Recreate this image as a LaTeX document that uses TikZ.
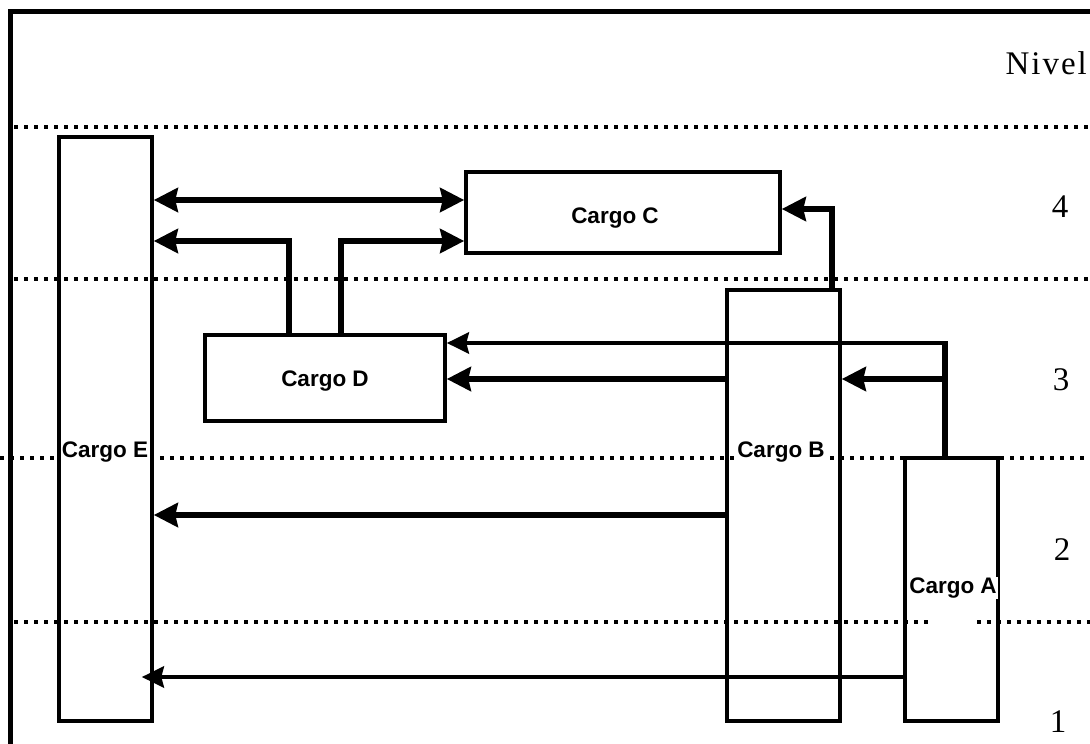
\documentclass[tikz,border=0pt]{standalone}
\usepackage{fontspec}
\setmainfont{Liberation Sans}
\newfontfamily\serifnum{Liberation Serif}
\usetikzlibrary{arrows.meta,calc}
\begin{document}
\begin{tikzpicture}[x=1pt,y=-1pt,
  box/.style={draw,line width=3.6pt,inner sep=0pt},
  lbl/.style={font=\fontsize{22.5}{22.5}\selectfont\bfseries,inner sep=1pt},
  lvl/.style={font=\serifnum\fontsize{33}{33}\selectfont,inner sep=0pt},
  dots/.style={line width=3.2pt,dash pattern=on 4pt off 6pt},
  tip/.style={Stealth[length=24pt,width=24pt,inset=2.5pt]},
  conn/.style={line width=6.5pt,-{Stealth[length=24pt,width=24pt,inset=2.5pt]}},
  thinconn/.style={line width=4.5pt,-{Stealth[length=22pt,width=21pt,inset=2.5pt]}},
  dblconn/.style={line width=6.5pt,{Stealth[length=24pt,width=24pt,inset=2.5pt]}-{Stealth[length=24pt,width=24pt,inset=2.5pt]}}]
\useasboundingbox (0,0) rectangle (1090,744);
\fill[white] (0,0) rectangle (1090,744);
% frame
\draw[line width=5pt] (1090,11) -- (10,11) -- (10,744);
% level separators
\draw[dots] (14,127) -- (1090,127);
\draw[dots] (14,279) -- (1090,279);
\draw[dots] (0,458) -- (1090,458);
\draw[dots] (14,622) -- (933,622);
\draw[dots] (977,622) -- (1090,622);
% level labels
\node[lvl,anchor=east] (niv) at (1087,63) {\addfontfeature{LetterSpace=6}Nivel};
\node[lvl] (n4) at (1060,207) {4};
\node[lvl] (n3) at (1061,380) {3};
\node[lvl] (n2) at (1062,550) {2};
\node[lvl] (n1) at (1058,722) {1};
% boxes
\node[box,minimum width=93pt,minimum height=584pt] (E) at (105.5,429) {};
\node[box,minimum width=314pt,minimum height=81pt] (C) at (623,212.5) {};
\node[box,minimum width=240pt,minimum height=86pt] (D) at (325,378) {};
\node[box,minimum width=113pt,minimum height=431pt] (B) at (783.5,505.5) {};
\node[box,minimum width=93pt,minimum height=263pt] (A) at (951.5,589.5) {};
% labels
\node[lbl,fill=white] (lE) at (105,452) {Cargo E};
\node[lbl,fill=white] (lB) at (781,452) {Cargo B};
\node[lbl,fill=white] (lA) at (953,588) {Cargo A};
\node[lbl] (lC) at (615,218) {Cargo C};
\node[lbl] (lD) at (325,381) {Cargo D};
% connectors
\coordinate (ajoin) at (945,379);
\draw[dblconn] (E.east |- 0,200) -- (C.west |- 0,200);
\draw[conn] (D.north -| 289,0) |- (E.east |- 0,241);
\draw[conn] (D.north -| 341,0) |- (C.west |- 0,241);
\draw[conn] (B.north -| 832,0) |- (C.east |- 0,209);
\draw[line width=6pt] (A.north -| 945,0) -- (945,341);
\draw[thinconn] (947.5,343) -- (D.east |- 0,343);
\draw[conn] (ajoin) -- (B.east |- ajoin);
\draw[conn] (B.west |- ajoin) -- (D.east |- ajoin);
\draw[conn] (B.west |- 0,515) -- (E.east |- 0,515);
\draw[thinconn,shorten >=-12pt] (A.west |- 0,677) -- (E.east |- 0,677);
\end{tikzpicture}
\end{document}
